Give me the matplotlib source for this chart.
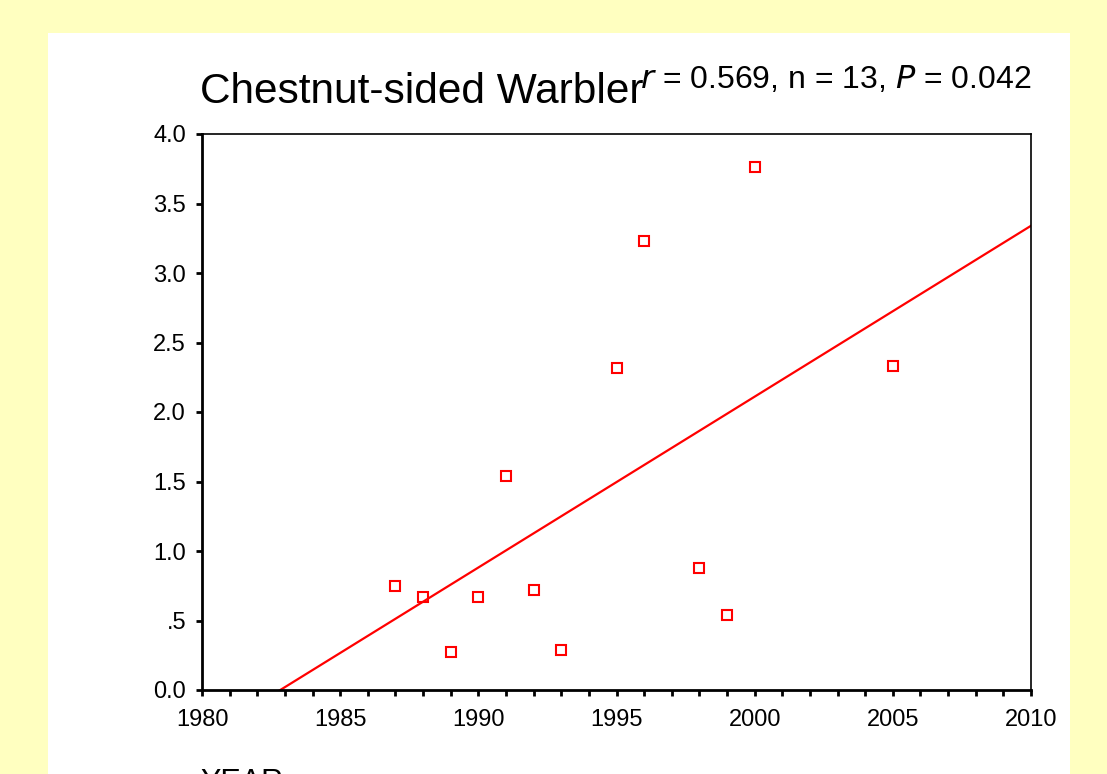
import numpy as np
import matplotlib.pyplot as plt
from matplotlib.patches import Rectangle

plt.rcParams['font.family'] = ['Liberation Sans', 'DejaVu Sans']

# data
years = [1987, 1988, 1989, 1990, 1991, 1992, 1993, 1995, 1996, 1998, 1999, 2000, 2005]
values = [0.75, 0.67, 0.27, 0.67, 1.54, 0.72, 0.29, 2.32, 3.23, 0.88, 0.54, 3.76, 2.33]
yticks = [0.0, 0.5, 1.0, 1.5, 2.0, 2.5, 3.0, 3.5, 4.0]
ytick_labels = ['0.0', '.5', '1.0', '1.5', '2.0', '2.5', '3.0', '3.5', '4.0']
xticks = [1980, 1985, 1990, 1995, 2000, 2005, 2010]
title = 'Chestnut-sided Warbler'
stats = r'$\it{r}$ = 0.569, n = 13, $\it{P}$ = 0.042'

W, H = 1107, 774
fig = plt.figure(figsize=(W / 100, H / 100), dpi=100)
fig.patch.set_facecolor('#FFFFC0')
panel = Rectangle((48 / W, 0), (1070 - 48) / W, (H - 33) / H,
                  transform=fig.transFigure, facecolor='white',
                  edgecolor='none', zorder=-10)
fig.add_artist(panel)

ax = fig.add_axes([202 / W, (H - 690) / H, (1031 - 202) / W, (690 - 134) / H])
ax.set_facecolor('white')

ax.plot(years, values, linestyle='none', marker='s', markersize=7,
        markerfacecolor='none', markeredgecolor='red', markeredgewidth=1.5,
        clip_on=False)

# linear fit
coef = np.polyfit(years, values, 1)
xl = np.array([1980, 2010])
ax.plot(xl, np.polyval(coef, xl), color='red', linewidth=1.6)

ax.set_xlim(1980, 2010)
ax.set_ylim(0, 4)
ax.set_xticks(xticks)
ax.set_xticks(range(1980, 2011), minor=True)
ax.set_yticks(yticks)
ax.set_yticklabels(ytick_labels)

for s in ['left', 'bottom']:
    ax.spines[s].set_linewidth(2)
for s in ['top', 'right']:
    ax.spines[s].set_linewidth(1.2)

ax.tick_params(axis='x', which='both', direction='out', length=4.5, width=2,
               labelsize=17, pad=9)
ax.tick_params(axis='y', direction='out', length=4.5, width=2,
               labelsize=17, pad=7)

fig.text(200 / W, 1 - 103 / H, title, fontsize=30.5, ha='left', va='baseline')
fig.text(1031 / W, 1 - 88 / H, stats, fontsize=23, ha='right', va='baseline')
fig.text(200 / W, 1 - 768 / H, 'YEAR', fontsize=22, ha='left', va='top')

fig.savefig('out.png', dpi=100, facecolor=fig.get_facecolor())
